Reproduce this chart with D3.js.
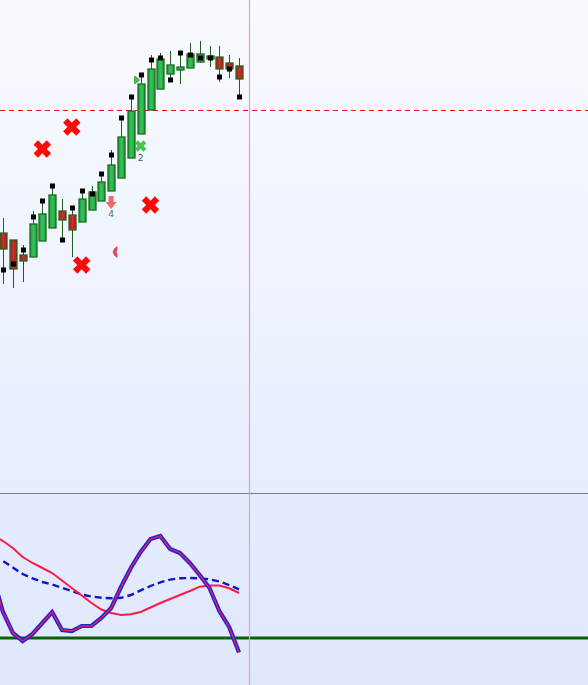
<!DOCTYPE html>
<html><head><meta charset="utf-8">
<script src="https://cdn.jsdelivr.net/npm/d3@7"></script>
<style>html,body{margin:0;padding:0;background:#fff;overflow:hidden}svg{display:block}</style>
</head><body>
<script>
// ---- data ----
const candleBars = [0,1,2,3,4,5,6,7,8,9,10,11,12,13,14,15,16,17,18,19,20,21,22,23,24];
const open  = [267,260,245,243,259,272,289,285,278,290,299,309,322,342,366,390,411,426,430,432,438,441,443,437,434];
const close = [251,231,239,276,286,305,280,270,301,308,318,335,363,389,416,431,441,435,433,446,446,444,431,431,421];
const high  = [282,260,255,289,300,314,301,293,311,314,326,350,382,403,425,445,447,449,447,457,459,454,454,445,442];
const low   = [216,212,218,243,259,272,259,243,278,290,299,309,322,342,366,390,411,420,416,432,437,433,418,422,403];
const stopDots = [230,236,250,283,299,314,260,292,309,306,326,345,382,403,425,440,442,420,447,445,442,442,423,431,403];
const levelLine = 390;

// signal markers
const bigCrossBars = [4,7,15,8];
const bigCrossPrices = [351,373,295,235];
const smallCrossBar = [14], smallCrossPrice = [354], smallCrossLabel = ["2"];
const arrowBar = [11], arrowPrice = [298], arrowLabel = ["4"];
const halfMarkBar = [11.4], halfMarkPrice = [248];
const triBar = [13.6], triPrice = [420];

// oscillator (lower panel)
const oscBars = [-1,0,1,2,3,4,5,6,7,8,9,10,11,12,13,14,15,16,17,18,19,20,21,22,23,24];
const mainOsc = [60,26,5,-3,4,15,26,8,7,12,12,20,30,51,70,86,99,102,89,85,75,63,50,27,11,-14.5];
const slowOsc = [102,97,90,81,75,70,65,57.5,50,42.5,35,28.5,25,23,23.7,26,30.5,35,39,43,47,51.3,52.5,52.5,49.7,45];
const signalOsc = [81,77,70.5,64,59.7,56,53.4,50.2,47,43.5,41.5,40.2,39.8,40.2,43,47.6,52,55.7,58.4,59.7,60,59.7,58.7,56.5,53,48.7];
const oscZero = 0;

// ---- layout ----
const W = 588, H = 685, splitY = 493, cursorX = 249;
const svg = d3.select("body").append("svg").attr("width", W).attr("height", H);
const defs = svg.append("defs");
const g1 = defs.append("linearGradient").attr("id","bgTop").attr("x1",0).attr("y1",0).attr("x2",0).attr("y2",1);
g1.append("stop").attr("offset","0%").attr("stop-color","#f9fbff");
g1.append("stop").attr("offset","100%").attr("stop-color","#e6edfd");
const g2 = defs.append("linearGradient").attr("id","bgBot").attr("x1",0).attr("y1",0).attr("x2",0).attr("y2",1);
g2.append("stop").attr("offset","0%").attr("stop-color","#e5ecfe");
g2.append("stop").attr("offset","100%").attr("stop-color","#dfe8fd");
const gg = defs.append("linearGradient").attr("id","gBody").attr("x1",0).attr("y1",0).attr("x2",1).attr("y2",0);
gg.append("stop").attr("offset","0%").attr("stop-color","#1f9a3c");
gg.append("stop").attr("offset","50%").attr("stop-color","#33c45a");
gg.append("stop").attr("offset","100%").attr("stop-color","#1f9a3c");
const gr = defs.append("linearGradient").attr("id","rBody").attr("x1",0).attr("y1",0).attr("x2",1).attr("y2",0);
gr.append("stop").attr("offset","0%").attr("stop-color","#a81c1c");
gr.append("stop").attr("offset","50%").attr("stop-color","#d42a2a");
gr.append("stop").attr("offset","100%").attr("stop-color","#a81c1c");
defs.append("clipPath").attr("id","clipTop").append("rect").attr("x",0).attr("y",0).attr("width",W).attr("height",splitY);
defs.append("clipPath").attr("id","clipBot").append("rect").attr("x",0).attr("y",splitY).attr("width",W).attr("height",H-splitY);

svg.append("rect").attr("x",0).attr("y",0).attr("width",W).attr("height",splitY).attr("fill","url(#bgTop)");
svg.append("rect").attr("x",0).attr("y",splitY).attr("width",W).attr("height",H-splitY).attr("fill","url(#bgBot)");

const x = d3.scaleLinear().domain([0,24]).range([3,239]);
const y = d3.scaleLinear().domain([7,500]).range([splitY,0]);
const yo = d3.scaleLinear().domain([-47,145]).range([H,splitY]);

const topG = svg.append("g").attr("clip-path","url(#clipTop)");

// level line
const ly = Math.round(y(levelLine))+0.5;
topG.append("line").attr("x1",0).attr("x2",W).attr("y1",ly).attr("y2",ly)
  .attr("stroke","#f01010").attr("stroke-width",1).attr("stroke-dasharray","5,4");

// candles
const bw = 7;
const cg = topG.append("g");
candleBars.forEach((b,i)=>{
  const cx = Math.round(x(b))+0.5;
  const up = close[i] >= open[i];
  cg.append("line").attr("x1",cx).attr("x2",cx).attr("y1",y(high[i])).attr("y2",y(low[i]))
    .attr("stroke","#1f5e1f").attr("stroke-width",1);
  const t = y(Math.max(open[i],close[i])), bt = y(Math.min(open[i],close[i]));
  cg.append("rect").attr("x",cx-bw/2).attr("y",t).attr("width",bw).attr("height",Math.max(bt-t,2))
    .attr("fill", up ? "url(#gBody)" : "url(#rBody)")
    .attr("stroke","#1e6a1e").attr("stroke-width",1.3);
});
// stop dots
topG.append("g").selectAll("rect").data(candleBars).join("rect")
  .attr("x",(b)=>Math.round(x(b))+0.5-2.5).attr("y",(b,i)=>y(stopDots[i])-2.5)
  .attr("width",5).attr("height",5).attr("fill","#000");

// big red crosses
const bigX = d3.symbol().type(d3.symbolCross).size(190)();
topG.append("g").selectAll("path").data(bigCrossBars).join("path")
  .attr("d",bigX).attr("fill","#ff0808")
  .attr("transform",(b,i)=>`translate(${x(b)},${y(bigCrossPrices[i])}) rotate(45)`);

// small green cross with label
const smX = d3.symbol().type(d3.symbolCross).size(80)();
smallCrossBar.forEach((b,i)=>{
  topG.append("path").attr("d",smX).attr("fill","#44c64c")
    .attr("transform",`translate(${x(b)},${y(smallCrossPrice[i])}) rotate(45)`);
  topG.append("text").attr("x",x(b)).attr("y",y(smallCrossPrice[i])+15).attr("text-anchor","middle")
    .attr("font-family","DejaVu Sans, sans-serif").attr("font-size",9).attr("fill","#4a4a78").text(smallCrossLabel[i]);
});

// down arrow with label
arrowBar.forEach((b,i)=>{
  const ax = x(b), ay = y(arrowPrice[i]);
  topG.append("path").attr("d",`M${ax-2.5},${ay-6} L${ax+2.5},${ay-6} L${ax+2.5},${ay} L${ax+5.5},${ay} L${ax},${ay+7} L${ax-5.5},${ay} L${ax-2.5},${ay} Z`)
    .attr("fill","#f06a6a");
  topG.append("text").attr("x",ax).attr("y",ay+15).attr("text-anchor","middle")
    .attr("font-family","DejaVu Sans, sans-serif").attr("font-size",9).attr("fill","#4a6aa0").text(arrowLabel[i]);
});

// small half mark
halfMarkBar.forEach((b,i)=>{
  const hx = x(b), hy = y(halfMarkPrice[i]);
  topG.append("path").attr("d",`M${hx+2.5},${hy-6} L${hx-1},${hy-3.5} L${hx-2.5},${hy} L${hx-1},${hy+3.5} L${hx+2.5},${hy+6} L${hx+2.5},${hy+3} L${hx+1.5},${hy} L${hx+2.5},${hy-3} Z`)
    .attr("fill","#e04a5c");
});

// green triangle
triBar.forEach((b,i)=>{
  const tx = x(b), ty = y(triPrice[i]);
  topG.append("path").attr("d",`M${tx-2},${ty-4} L${tx+3},${ty} L${tx-2},${ty+4} Z`)
    .attr("fill","#40c840").attr("stroke","#2a9a2a").attr("stroke-width",0.8);
});

// ---- lower panel ----
const bot = svg.append("g").attr("clip-path","url(#clipBot)");
bot.append("line").attr("x1",0).attr("x2",W).attr("y1",yo(oscZero)).attr("y2",yo(oscZero))
  .attr("stroke","#0a600a").attr("stroke-width",3);
const lineGen = (arr)=>d3.line().x((b)=>x(b)).y((b,i)=>yo(arr[i]))(oscBars);
bot.append("path").attr("d",lineGen(signalOsc)).attr("fill","none")
  .attr("stroke","#1414c8").attr("stroke-width",2.4).attr("stroke-dasharray","7,4");
bot.append("path").attr("d",lineGen(slowOsc)).attr("fill","none")
  .attr("stroke","#ff1a4a").attr("stroke-width",2);
bot.append("path").attr("d",lineGen(mainOsc)).attr("fill","none")
  .attr("stroke","#2222dd").attr("stroke-width",4.2);
bot.append("path").attr("d",lineGen(mainOsc)).attr("fill","none")
  .attr("stroke","#f0204a").attr("stroke-width",1.3);

// separator and cursor
svg.append("line").attr("x1",0).attr("x2",W).attr("y1",splitY+0.5).attr("y2",splitY+0.5)
  .attr("stroke","#6c7e92").attr("stroke-width",1);
svg.append("line").attr("x1",cursorX+0.5).attr("x2",cursorX+0.5).attr("y1",0).attr("y2",H)
  .attr("stroke","#eea0aa").attr("stroke-width",1.2);
</script>
</body></html>
